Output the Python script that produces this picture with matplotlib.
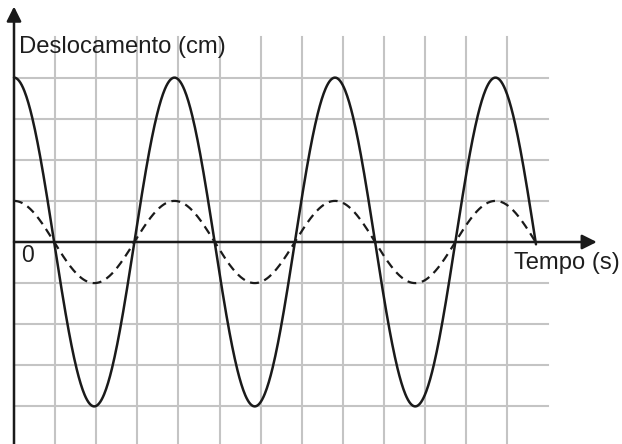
import numpy as np
import matplotlib
matplotlib.use("Agg")
import matplotlib.pyplot as plt

plt.rcParams['font.family'] = ['Liberation Sans', 'DejaVu Sans']

# values, in grid cells
amplitudes = [4.0, 1.0]          # solid, dashed
line_styles = ['-', (0, (4, 2.6))]
period = 3.905
t_end = 12.7
grid_x = list(range(0, 13))
grid_y = [-4, -3, -2, -1, 1, 2, 3, 4]

px = 41.1  # pixels per grid cell
fig = plt.figure(figsize=(6.22, 4.44), dpi=100)
ax = fig.add_axes([0, 0, 1, 1])
ax.set_xlim(-14 / px, (622 - 14) / px)
ax.set_ylim(-(444 - 242) / px, 242 / px)
ax.axis('off')

# grid
for gx in grid_x[1:]:
    ax.plot([gx, gx], [-5.2, 5], color='#c4c4c4', lw=1.5, zorder=1)
for gy in grid_y:
    ax.plot([0, 13], [gy, gy], color='#c4c4c4', lw=1.5, zorder=1)

# curves
t = np.linspace(0, t_end, 800)
for amp, ls in zip(amplitudes, line_styles):
    ax.plot(t, amp * np.cos(2 * np.pi * t / period), color='#1a1a1a',
            lw=1.8 if amp > 2 else 1.6, linestyle=ls, zorder=3,
            solid_capstyle='round')

# axes with arrows
ax.annotate('', xy=(0, 5.73), xytext=(0, -5.2),
            arrowprops=dict(arrowstyle='-|>', color='#1a1a1a', lw=1.8,
                            mutation_scale=22, shrinkA=0, shrinkB=0), zorder=4)
ax.annotate('', xy=(14.18, 0), xytext=(0, 0),
            arrowprops=dict(arrowstyle='-|>', color='#1a1a1a', lw=1.8,
                            mutation_scale=22, shrinkA=0, shrinkB=0), zorder=4)

ax.text(5 / px, (242 - 47) / px, 'Deslocamento (cm)', fontsize=17.2,
        color='#1e1e1e', va='center', ha='left', zorder=5)
ax.text(7 / px, -13 / px, '0', fontsize=16.5, color='#1e1e1e',
        va='center', ha='left', zorder=5)
ax.text(500 / px, -21 / px, 'Tempo (s)', fontsize=17.1, color='#1e1e1e',
        va='center', ha='left', zorder=5)

fig.savefig('out.png', dpi=100)
